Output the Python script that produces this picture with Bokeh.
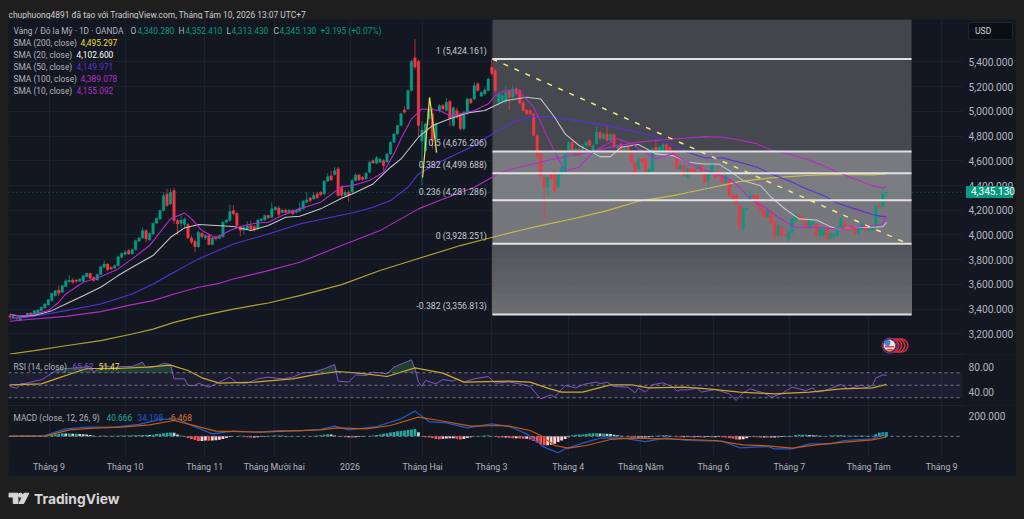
from bokeh.plotting import figure
from bokeh.layouts import column
from bokeh.models import (Range1d, FixedTicker, NumeralTickFormatter, Label, Span, Grid, LinearAxis, Div)
from bokeh.core.properties import value
from bokeh.embed import file_html
from bokeh.resources import INLINE
import numpy as np

opens = [3346,3330,3333,3312,3346,3338,3368,3355,3365,3387,
3409,3433,3468,3508,3554,3535,3581,3622,3635,3635,
3625,3625,3662,3689,3657,3635,3679,3738,3765,3738,
3733,3751,3819,3841,3873,3846,3881,3949,3976,4035,
3959,4008,4094,4129,4197,4332,4251,4359,4116,4094,
4084,4084,3976,3949,3905,4013,3976,3995,3922,3986,
3973,3986,4103,4116,4197,4175,4067,4040,4049,4076,
4068,4049,4116,4121,4157,4143,4202,4219,4181,4202,
4181,4197,4181,4192,4211,4265,4299,4291,4332,4345,
4332,4435,4480,4489,4535,4386,4319,4346,4346,4440,
4486,4467,4454,4508,4602,4580,4588,4602,4590,4656,
4750,4818,4885,5012,5020,5169,5434,5407,4760,4683,
4940,4980,4778,5007,5047,5007,5083,4885,5007,4980,
4859,4980,5101,5101,5223,5123,5142,5169,5358,5331,
5075,5088,5075,5169,5115,5183,5169,5075,5012,5007,
4980,4805,4656,4467,4386,4488,4508,4386,4494,4494,
4656,4750,4642,4696,4683,4723,4764,4656,4737,4832,
4778,4818,4764,4813,4705,4737,4670,4710,4670,4589,
4535,4615,4615,4510,4521,4710,4670,4670,4732,4710,
4670,4642,4535,4560,4467,4535,4535,4535,4560,4494,
4440,4494,4507,4507,4480,4427,4440,4320,4320,4237,
4049,4203,4280,4320,4320,4238,4197,4143,4184,4103,
3995,4062,4008,3968,4022,4116,4157,4143,4103,4062,
4084,4084,3995,3995,4049,3968,3987,3995,4062,4103,
4049,4075,4062,4008,4049,4075,4035,4040,4062,4237,
4230,4340.28]
closes = [3333,3341,3320,3341,3333,3365,3355,3387,3392,3414,
3441,3476,3527,3549,3527,3589,3630,3635,3616,3622,
3643,3670,3689,3649,3630,3679,3743,3765,3717,3725,
3751,3824,3851,3860,3846,3881,3954,3976,4035,3968,
4013,4094,4135,4197,4318,4237,4345,4116,4089,4121,
4129,3976,3940,3905,4022,3986,3995,3922,3976,3968,
3995,4103,4121,4189,4170,4075,4035,4062,4076,4049,
4040,4121,4129,4157,4138,4211,4224,4165,4202,4181,
4202,4170,4202,4219,4273,4283,4278,4319,4300,4327,
4435,4472,4445,4521,4320,4320,4346,4320,4440,4486,
4445,4448,4499,4589,4583,4624,4615,4561,4655,4750,
4818,4885,4980,4993,5169,5407,5358,4885,4850,4899,
5020,4764,4899,5047,5020,5074,4940,5029,4953,4859,
4993,5101,5070,5209,5170,5155,5174,5263,5304,5169,
5142,5128,5155,5115,5183,5142,5066,5007,4980,4980,
4805,4642,4480,4386,4467,4453,4359,4494,4548,4656,
4750,4642,4696,4642,4723,4750,4723,4723,4832,4778,
4818,4764,4813,4710,4723,4670,4710,4670,4589,4508,
4615,4590,4508,4535,4696,4683,4710,4732,4683,4670,
4642,4535,4560,4480,4535,4494,4508,4560,4494,4427,
4494,4575,4467,4480,4427,4480,4320,4280,4251,4062,
4210,4219,4320,4300,4238,4197,4143,4197,4103,3995,
4075,3995,3995,4022,4130,4170,4130,4116,4062,4116,
4103,3995,4049,4049,3968,4008,4008,4062,4130,4049,
4040,4057,4008,4062,4089,4035,4048,4062,4237,4224,
4332,4345.13]
highs = [3352,3348,3338,3346,3352,3372,3376,3392,3398,3420,
3448,3482,3534,3556,3590,3596,3640,3673,3650,3642,
3650,3678,3695,3695,3664,3686,3750,3790,3772,3744,
3760,3832,3858,3880,3885,3890,3962,3985,4060,4045,
4020,4102,4142,4206,4345,4375,4375,4381,4135,4160,
4140,4095,3995,3965,4035,4025,4005,4010,3985,3995,
4005,4112,4130,4245,4240,4185,4075,4072,4110,4115,
4080,4130,4137,4165,4165,4264,4235,4235,4210,4215,
4210,4210,4212,4262,4285,4345,4310,4345,4350,4355,
4445,4500,4520,4550,4550,4400,4365,4360,4452,4500,
4496,4478,4510,4600,4612,4640,4625,4612,4665,4760,
4825,4892,4990,5040,5178,5420,5587,5420,4920,4910,
5110,5030,4910,5060,5060,5110,5090,5040,5030,4990,
5005,5110,5110,5235,5235,5165,5195,5275,5424,5345,
5150,5140,5210,5180,5215,5195,5180,5085,5022,5015,
4990,4815,4665,4500,4480,4498,4530,4505,4558,4665,
4762,4760,4705,4708,4735,4765,4772,4735,4880,4842,
4830,4880,4825,4822,4735,4748,4720,4720,4680,4600,
4628,4625,4625,4545,4708,4775,4722,4745,4745,4722,
4682,4652,4570,4570,4545,4545,4545,4570,4570,4505,
4505,4600,4518,4518,4490,4490,4450,4330,4330,4245,
4220,4228,4360,4332,4330,4248,4205,4205,4195,4112,
4085,4075,4020,4032,4140,4185,4170,4155,4112,4125,
4112,4094,4060,4060,4060,4018,4018,4072,4155,4115,
4060,4085,4072,4072,4100,4085,4060,4072,4245,4270,
4372,4352.41]
lows = [3326,3324,3310,3305,3328,3332,3350,3350,3360,3382,
3402,3428,3462,3500,3505,3528,3576,3610,3605,3615,
3618,3620,3656,3642,3622,3628,3674,3732,3710,3718,
3726,3745,3812,3835,3838,3840,3875,3942,3968,3940,
3950,4000,4088,4122,4190,4228,4240,4090,4000,4060,
4050,3965,3925,3860,3895,3970,3960,3915,3915,3955,
3965,3978,4095,4110,4160,4060,3990,4005,4040,4030,
4025,4040,4108,4115,4130,4136,4195,4140,4175,4170,
4172,4160,4175,4185,4205,4258,4265,4285,4290,4315,
4325,4428,4435,4480,4310,4302,4310,4270,4338,4432,
4438,4438,4445,4500,4575,4572,4580,4520,4582,4650,
4742,4810,4878,4980,5010,5160,5340,4790,4400,4670,
4890,4700,4660,4990,5005,5000,4880,4875,4940,4845,
4845,4970,5060,5090,5160,5115,5130,5160,5290,5150,
5050,5075,5060,5010,5105,5130,5055,4995,4970,4970,
4795,4632,4470,4105,4310,4445,4340,4375,4485,4485,
4648,4632,4632,4632,4672,4715,4712,4645,4730,4770,
4770,4755,4755,4700,4695,4660,4660,4660,4580,4498,
4525,4580,4498,4500,4510,4675,4660,4660,4675,4660,
4632,4525,4525,4470,4455,4485,4500,4525,4485,4418,
4370,4485,4458,4470,4418,4418,4310,4270,4240,4020,
4015,4195,4272,4260,4228,4187,4132,4135,4095,3960,
3985,3985,3985,3930,4012,4108,4122,4105,4050,4052,
4075,3985,3985,3985,3958,3958,3978,3985,4052,4040,
4032,4045,3998,4000,4040,4025,4025,4030,4055,4212,
4225,4313.43]

sma200_bars = [0,7,16,26,35,41,47,54,64,74,83,95,106,117,129,139,146,152,161,171,180,190,199,209,218,228,237,247,251]
sma200_vals = [3036,3063,3103,3144,3198,3238,3292,3341,3400,3449,3509,3598,3712,3809,3914,3987,4036,4075,4129,4197,4273,4318,4372,4432,4462,4481,4489,4486,4495]
sma100_bars = [0,7,16,26,35,41,47,54,60,64,74,83,95,106,117,123,133,139,142,148,154,161,166,171,180,190,199,204,209,214,218,223,228,233,237,242,247,250,251]
sma100_vals = [3301,3319,3341,3379,3436,3468,3522,3576,3608,3643,3711,3779,3914,4035,4211,4278,4386,4481,4521,4562,4602,4643,4670,4705,4751,4777,4796,4791,4769,4737,4688,4656,4615,4561,4507,4453,4399,4381,4389]
sma50_bars = [0,7,16,26,35,41,47,54,64,74,83,95,99,104,109,114,117,123,133,139,144,150,154,161,171,180,185,190,194,199,204,209,214,218,223,228,233,237,242,247,250,251]
sma50_vals = [3320,3341,3387,3441,3522,3603,3698,3806,3927,4008,4089,4162,4184,4224,4278,4386,4494,4589,4724,4832,4913,4961,4958,4931,4885,4832,4791,4723,4670,4624,4624,4589,4548,4494,4440,4373,4319,4256,4211,4165,4148,4150]
sma20_bars = [0,3,7,12,16,21,26,31,35,41,46,50,54,59,64,69,74,79,83,89,95,98,104,109,112,117,121,126,131,136,139,142,148,152,156,159,163,169,172,175,180,185,190,194,199,203,206,210,215,218,222,226,231,235,237,242,247,250,251]
sma20_vals = [3355,3341,3347,3387,3441,3508,3576,3671,3738,3833,3981,4057,4084,4076,4068,4035,4076,4143,4151,4211,4297,4332,4413,4548,4615,4791,4885,4940,4988,5007,5047,5088,5115,5101,4953,4818,4724,4634,4634,4710,4732,4656,4642,4588,4575,4575,4521,4440,4399,4305,4210,4130,4121,4067,4048,4062,4062,4067,4102]
sma10_bars = [0,3,7,11,14,16,21,26,31,35,40,43,46,50,52,55,59,63,67,71,74,78,83,89,95,98,103,107,110,112,115,118,121,123,126,130,133,137,139,142,146,150,154,157,159,163,167,171,174,178,180,185,190,193,197,202,206,209,212,217,220,225,231,237,242,247,250,251]
sma10_vals = [3360,3341,3360,3387,3455,3522,3617,3662,3725,3806,3914,4022,4130,4178,4130,4035,3976,4035,4076,4097,4103,4157,4211,4265,4391,4399,4440,4507,4656,4778,4940,5020,5015,5007,4966,4985,5007,5061,5129,5169,5156,5034,4791,4616,4521,4548,4670,4737,4778,4737,4700,4616,4656,4602,4548,4494,4453,4386,4292,4210,4143,4062,4062,4048,4062,4075,4089,4155]

rsi_bars = [0,2,3,5,7,9,11,13,15,18,21,23,24,25,27,30,32,35,38,39,42,44,46,47,50,51,53,54,57,59,62,63,65,68,71,74,78,81,84,87,90,93,94,97,99,102,104,108,110,115,116,117,118,119,122,124,127,128,130,133,137,139,143,146,149,152,155,156,159,162,165,168,169,171,173,177,179,180,182,184,187,190,191,192,194,197,198,202,206,208,210,212,216,218,221,224,228,230,231,234,238,240,242,244,245,247,248,249,250,251]
rsi_vals = [48.0,45.4,52.3,53.4,56.6,58.7,65.6,72.6,76.3,77.4,79,80,71,74.7,81.6,77.9,80,80,87,77.9,80,85.4,83.2,60.3,60.3,49.6,49.6,53.4,47,52.3,60.3,63,53.9,53.4,60.3,63,60.3,63,69.9,71,76.3,83.2,56.6,55,66.7,65.6,71,68.3,79,90.7,76.3,55,48.6,57.6,52.3,59.2,56.6,60.3,55,60.3,64,53.4,55,52.3,48,28.3,34.7,31,49.6,45.9,52.3,55,52.3,55,48,47,37.9,45.4,39,50.7,53.9,47,40.6,42.7,42.7,45.4,39,43.3,36.3,25.7,37.9,44.3,37.4,31,36.3,47,41.6,45.9,39,42.7,51.2,44.3,47,50.7,45.9,49.6,61.9,64,66.7,65.62]
rsi_ma_bars = [0,9,14,22,31,39,46,51,55,60,70,81,87,94,100,108,116,124,130,143,149,154,158,164,172,178,183,193,200,209,219,229,238,247,251]
rsi_ma_vals = [50.7,52.3,61.9,76.8,76.8,79,82.2,73.6,61.9,53.4,55,60.3,66.7,72,69.4,64,77.9,69.4,55,56.6,55,45.4,39,39,50.7,50.7,45.9,47,44.3,39,36.3,39,44.3,45.9,51.47]

macd_bars = [0,10,16,22,30,37,43,48,52,58,64,71,77,83,89,93,97,105,112,116,120,125,131,138,143,148,153,157,159,165,169,175,182,188,194,204,209,217,219,224,229,235,239,247,251]
macd_vals = [2,8,72,88,88,114,162,168,104,24,50,40,56,53,66,98,62,94,168,242,142,130,82,120,94,24,-104,-158,-120,-56,-18,-14,-50,-14,-40,-46,-110,-98,-120,-120,-72,-72,-40,-24,34.198]
signal_bars = [0,10,17,24,32,40,47,52,59,66,72,79,89,94,102,109,117,123,132,140,143,149,152,156,160,165,172,178,190,202,210,217,224,231,239,247,251]
signal_vals = [2,2,62,78,88,110,152,110,50,46,40,50,62,82,72,104,184,152,98,104,98,56,8,-88,-114,-88,-30,-18,-27,-40,-82,-91,-114,-82,-56,-34,-6.468]
hist_vals = [-4,-4,-4,-5,-5,-5,-4,-2,0,3,
5,10,15,20,25,30,28,28,25,25,
22,20,18,12,6,4,6,5,4,5,
5,6,8,8,8,10,10,12,14,14,
12,16,22,26,30,35,38,35,18,5,
-2,-15,-25,-35,-45,-45,-40,-42,-40,-38,
-32,-25,-15,-6,2,4,5,3,-8,-10,
-10,-8,-5,-3,3,5,8,8,5,4,
3,2,3,3,2,2,3,6,8,10,
15,20,18,8,4,-3,-8,-8,-10,-8,
-6,-4,2,4,8,12,18,25,30,38,
42,48,52,56,60,66,70,40,-5,-8,
-12,-15,-25,-28,-22,-20,-18,-18,-22,-30,
-25,-15,-8,-2,3,6,8,8,4,-4,
-10,-12,-10,-15,-18,-18,-20,-22,-22,-30,
-45,-60,-75,-85,-85,-80,-70,-55,-40,-25,
-8,10,15,18,18,22,28,30,30,28,
28,25,22,15,10,5,-2,-5,-10,-12,
-12,-12,-10,-8,-3,6,8,10,8,5,
-2,-6,-8,-8,-6,-8,-8,-7,-8,-8,
-6,-8,-8,-7,-8,-10,-15,-20,-30,-30,
-28,-18,-5,-6,-8,-10,-10,-12,-12,-10,
-8,-6,-5,-3,-2,12,15,15,15,12,
10,8,5,3,2,8,10,10,8,6,
6,6,5,6,5,6,6,6,20,35,
40,40.666]

fib_levels = [5424.161, 4676.206, 4499.688, 4281.286, 3928.251, 3356.813]
fib_names = ["1 (5,424.161)", "0.5 (4,676.206)", "0.382 (4,499.688)", "0.236 (4,281.286)", "0 (3,928.251)", "-0.382 (3,356.813)"]
price_ticks = [3200,3400,3600,3800,4000,4200,4400,4600,4800,5000,5200,5400]
month_ticks = [11.2,33,55.8,75.7,97.4,118.2,137.9,159.9,180.7,201.5,223.2,246,266.8]
month_names = ["Tháng 9","Tháng 10","Tháng 11","Tháng Mười hai","2026","Tháng Hai","Tháng 3","Tháng 4","Tháng Năm","Tháng 6","Tháng 7","Tháng Tám","Tháng 9"]
trend_bars = [138.2, 257]
trend_vals = [5424, 3930]
zig_bars = [118.2, 120.2, 122.2]
zig_vals = [4465, 5113, 4667]

PANEL = "#131722"; PAGE = "#1e1e1e"; GRID = "#1c2130"; FONT = "Roboto"; GRAYT = "#b2b5be"
UP = "#089981"; DOWN = "#f23645"
W = 1008
PRICE_TOP, PRICE_BOTTOM, PRICE_H = 5744, 3032, 335
x_range = Range1d(-0.4, 272.8)

def base(height, yr, border_bottom=0):
    f = figure(width=W, height=height, x_range=x_range, y_range=yr, x_axis_type=None,
               y_axis_location="right", toolbar_location=None, output_backend="svg",
               min_border_left=0, min_border_top=0, min_border_bottom=border_bottom, min_border_right=50,
               background_fill_color=PANEL, border_fill_color=PANEL, outline_line_color=None)
    ax = f.yaxis[0]
    ax.axis_line_color = None; ax.major_tick_line_color = None; ax.minor_tick_line_color = None
    ax.major_tick_out = 0; ax.major_tick_in = 0; ax.minor_tick_out = 0; ax.minor_tick_in = 0
    ax.major_label_standoff = 6; ax.major_label_text_color = GRAYT
    ax.major_label_text_font = FONT; ax.major_label_text_font_size = "10.2px"
    f.ygrid.grid_line_color = GRID
    f.add_layout(Grid(dimension=0, ticker=FixedTicker(ticks=month_ticks), grid_line_color=GRID))
    return f

def lab(f, px, py, text, color, bottom, size="8.4px"):
    f.add_layout(Label(x=px - 8, y=bottom - py, x_units="screen", y_units="screen", text=text,
                       text_color=color, text_font=FONT, text_font_size=size, text_baseline="middle"))

# ---------- price pane ----------
p = base(PRICE_H, Range1d(PRICE_BOTTOM, PRICE_TOP))
p.yaxis.ticker = FixedTicker(ticks=price_ticks)
p.yaxis.formatter = NumeralTickFormatter(format="0,0.000")

fs, fe = 138.2, 258.2
bands_top = [PRICE_TOP] + fib_levels[:-2]
bands_bot = fib_levels[:-1]
bands_col = ["#43454c", "#46484f", "#797a80", "#7b7c81", "#76777c"]
p.quad(left=fs, right=fe, top=bands_top, bottom=bands_bot, fill_color=bands_col, line_color=None)
# lowest band brightens towards its foot
steps = np.linspace(fib_levels[4], fib_levels[5], 11)
shade = ["#%02x%02x%02x" % (int(82 + 26 * t), int(84 + 25 * t), int(91 + 22 * t)) for t in np.linspace(0, 1, 10)]
p.quad(left=fs, right=fe, top=steps[:-1], bottom=steps[1:], fill_color=shade, line_color=shade, line_width=1)

bars = np.arange(len(opens))
o, c = np.array(opens), np.array(closes)
col = [UP if b >= a else DOWN for a, b in zip(opens, closes)]
p.segment(bars, highs, bars, lows, color=col, line_width=1, line_alpha=0.75)
p.vbar(x=bars, top=np.maximum(o, c), bottom=np.minimum(o, c), width=0.76, fill_color=col, line_color=col, line_width=0.3)

p.line(sma200_bars, sma200_vals, line_color="#e6cf3c", line_width=1.2, line_alpha=0.75)
p.line(sma100_bars, sma100_vals, line_color="#b32cc4", line_width=1.1)
p.line(sma50_bars, sma50_vals, line_color="#5a30d6", line_width=1.1)
p.line(sma20_bars, sma20_vals, line_color="#c6c6cb", line_width=1.05)
p.line(sma10_bars, sma10_vals, line_color="#b42acb", line_width=1.1)

p.segment(x0=[fs]*6, x1=[fe]*6, y0=fib_levels, y1=fib_levels, line_color="#e2e2e4", line_width=2)
p.text(x=[fs - 1.6]*6, y=fib_levels, text=fib_names, text_align="right", text_baseline="bottom", y_offset=-3,
       text_color="#c8cad0", text_font=value(FONT), text_font_size="8.7px")
p.line(trend_bars, trend_vals, line_color="#f5e88a", line_width=1.5, line_dash="5 7")
p.line(zig_bars, zig_vals, line_color="#f0dc40", line_width=1.2)

p.add_layout(Span(location=closes[-1], dimension="width", line_color=UP, line_dash="1 3", line_width=1, line_alpha=0.7))

# event badge (flag + stacked rings)
ring_x = [255.3, 254.4, 253.5, 252.7]
p.scatter(ring_x, [3104]*4, size=13, marker="circle", fill_color="#1a1d28", line_color="#d3303f", line_width=1.5)
p.scatter([251.9], [3104], size=15, marker="circle", fill_color="#1a1d28", line_color="#7b3fa8", line_width=1)
p.scatter([251.9], [3104], size=12, marker="circle", fill_color="#f2f2f2", line_color="#e03040", line_width=1)
p.scatter([251.3], [3125], size=6, marker="circle", fill_color="#3f7fd8", line_color=None)
p.segment([250.6, 251.1], [3095, 3070], [253.2, 252.8], [3095, 3070], line_color="#e23a45", line_width=1.4)

# legend
B = 354
lab(p, 13, 30, "Vàng / Đô la Mỹ · 1D · OANDA", GRAYT, B)
lab(p, 130, 30, "O", GRAYT, B); lab(p, 137, 30, "4,340.280", UP, B)
lab(p, 178, 30, "H", GRAYT, B); lab(p, 185, 30, "4,352.410", UP, B)
lab(p, 226, 30, "L", GRAYT, B); lab(p, 231, 30, "4,313.430", UP, B)
lab(p, 273, 30, "C", GRAYT, B); lab(p, 279, 30, "4,345.130", UP, B)
lab(p, 320, 30, "+3.195 (+0.07%)", UP, B)
rows = [("SMA (200, close)", "4,495.297", "#f0dc40", 80), ("SMA (20, close)", "4,102.600", "#ffffff", 76),
        ("SMA (50, close)", "4,149.971", "#5a30d6", 76), ("SMA (100, close)", "4,389.078", "#b32cc4", 80),
        ("SMA (10, close)", "4,155.092", "#b32cc4", 76)]
for k, (a, b_, cc, vx) in enumerate(rows):
    lab(p, 13, 42 + 12 * k, a, GRAYT, B); lab(p, vx, 42 + 12 * k, b_, cc, B)

# ---------- RSI pane ----------
r = base(51, Range1d(17.6, 99.2))
r.yaxis.ticker = FixedTicker(ticks=[40, 80])
r.yaxis.formatter = NumeralTickFormatter(format="0.00")
r.ygrid.grid_line_color = None
r.quad(left=-0.4, right=272.8, top=70, bottom=30, fill_color="#7e57c2", fill_alpha=0.11, line_color=None)
for lv in [70, 50, 30]:
    r.add_layout(Span(location=lv, dimension="width", line_color="#787b86", line_dash="3 3", line_width=1))
rb, rv = np.array(rsi_bars, float), np.array(rsi_vals)
r.varea(rb, np.full(len(rb), 70.0), np.maximum(rv, 70.0), fill_color="#2f7d4a", fill_alpha=0.4)
r.line(rsi_bars, rsi_vals, line_color="#7e57c2", line_width=1)
r.line(rsi_ma_bars, rsi_ma_vals, line_color="#c9a92c", line_width=1.2)
r.add_layout(Span(location=99.2, dimension="width", line_color="#2a2e39", line_width=1))
lab(r, 13, 366, "RSI (14, close)", GRAYT, 405)
lab(r, 72, 366, "65.62", "#7e57c2", 405)
lab(r, 98, 366, "51.47", "#f0dc40", 405)

# ---------- MACD pane ----------
m = base(71, Range1d(-193.6, 296), border_bottom=20)
m.yaxis.ticker = FixedTicker(ticks=[200])
m.yaxis.formatter = NumeralTickFormatter(format="0,0.000")
m.ygrid.grid_line_color = None
hist_col = []
prev = 0
for h in hist_vals:
    if h >= 0:
        hist_col.append("#26a69a" if h >= prev else "#b2dfdb")
    else:
        hist_col.append("#ffcdd2" if h >= prev else "#ff5252")
    prev = h
m.add_layout(Span(location=0, dimension="width", line_color="#787b86", line_dash="3 3", line_width=1))
m.vbar(x=bars, top=hist_vals, bottom=0, width=0.8, fill_color=hist_col, line_color=None)
m.line(macd_bars, macd_vals, line_color="#2459c9", line_width=1.2)
m.line(signal_bars, signal_vals, line_color="#c8590f", line_width=1.2)
m.add_layout(Span(location=296, dimension="width", line_color="#2a2e39", line_width=1))
axis = LinearAxis(ticker=FixedTicker(ticks=month_ticks),
                  major_label_overrides=dict(zip(month_ticks, month_names)),
                  axis_line_color=None, major_tick_line_color=None, minor_tick_line_color=None,
                  major_tick_out=0, major_tick_in=0, minor_tick_out=0, minor_tick_in=0,
                  major_label_text_color=GRAYT, major_label_text_font=FONT, major_label_text_font_size="8.8px",
                  major_label_standoff=5)
m.add_layout(axis, "below")
lab(m, 13, 417, "MACD (close, 12, 26, 9)", GRAYT, 456)
lab(m, 106, 417, "40.666", "#26a69a", 456)
lab(m, 137, 417, "34.198", "#2459c9", 456)
lab(m, 168, 417, "-6.468", "#e0701a", 456)

# ---------- header and footer strips (their ranges are page pixels) ----------
def strip(h, y0, y1):
    f = figure(width=W, height=h, x_range=Range1d(8, 1016), y_range=Range1d(y1, y0), x_axis_type=None, y_axis_type=None,
               toolbar_location=None, output_backend="svg", min_border=0,
               background_fill_color=PAGE, border_fill_color=PAGE, outline_line_color=None)
    f.grid.visible = False
    return f

head = strip(11, 8, 19)
head.text(x=[8], y=[13.5], text=["chuphuong4891 đã tạo với TradingView.com, Tháng Tám 10, 2026 13:07 UTC+7"],
          text_color="#c9ccd3", text_font=value(FONT), text_font_size="8.45px", text_baseline="middle")

foot = strip(35, 476, 511)
foot.patch([8.3, 18, 18, 13, 13, 8.3], [492.7, 492.7, 503, 503, 496.5, 496.5], color="#d6d6d6")
foot.patch([24.5, 29.5, 24, 19], [492.7, 492.7, 503, 503], color="#d6d6d6")
foot.scatter([20.7], [494.7], size=4.2, marker="circle", color="#d6d6d6")
foot.text(x=[35], y=[498], text=["TradingView"], text_color="#d6d6d6", text_font=value("Inter"),
          text_font_size="13.8px", text_font_style="bold", text_baseline="middle")

# small floating plates over the axis strip
tag_mid = 19 + (PRICE_TOP - closes[-1]) / (PRICE_TOP - PRICE_BOTTOM) * PRICE_H
tag = Div(text="4,345.130", width=47, height=12, margin=0,
          styles={"position": "absolute", "left": "958px", "top": "%.1fpx" % (tag_mid - 6 - 8),
                  "background": UP, "color": "#ffffff", "font-family": FONT, "font-size": "10px",
                  "line-height": "12px", "padding-left": "5px", "box-sizing": "border-box", "white-space": "nowrap"})
usd = Div(text="USD", width=45, height=18, margin=0,
          styles={"position": "absolute", "left": "960px", "top": "14px", "background": "#0c0e13",
                  "border": "1px solid #20242f", "border-radius": "3px", "color": "#d1d4dc", "font-family": FONT,
                  "font-size": "8.6px", "line-height": "16px", "padding-left": "6px", "box-sizing": "border-box"})

doc = column(head, p, r, m, foot, tag, usd, spacing=0)
html = file_html(doc, INLINE)
html = html.replace("<body>", '<body style="background:#1e1e1e;margin:8px;height:auto;overflow:hidden">')
open("out.html", "w").write(html)
